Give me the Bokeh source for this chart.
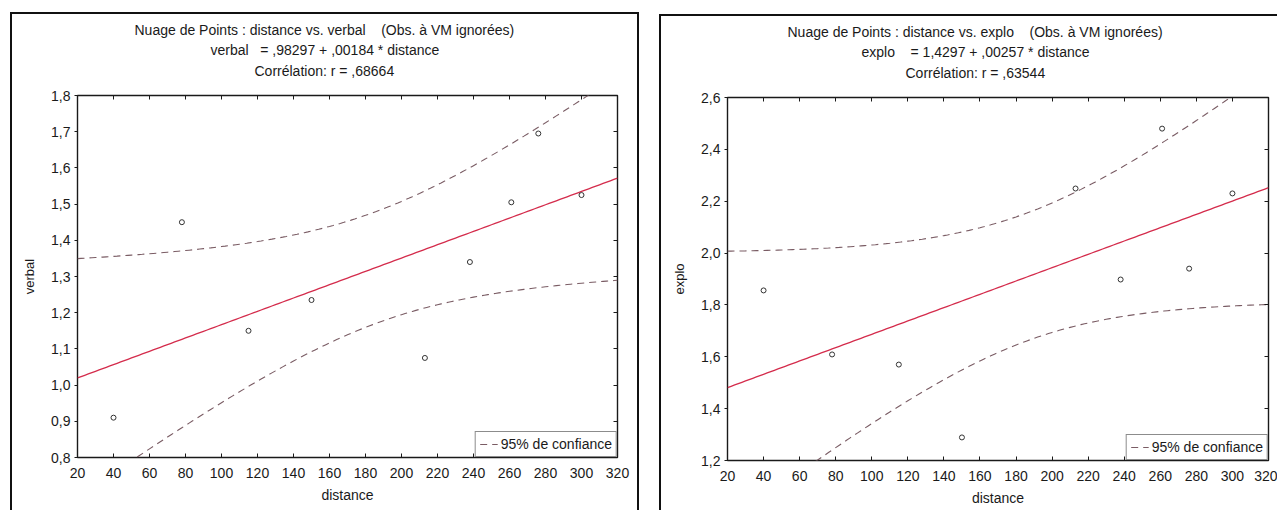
import numpy as np
from bokeh.plotting import figure
from bokeh.models import (LinearAxis, FixedTicker, CustomJSTickFormatter, Title,
                          Legend, LegendItem, Range1d, Spacer)
from bokeh.layouts import row, column
from bokeh.embed import file_html
from bokeh.resources import INLINE

# ---------------- data ----------------
distance = [40, 78, 115, 150, 213, 238, 261, 276, 300]
verbal = [0.91, 1.45, 1.15, 1.235, 1.075, 1.34, 1.505, 1.695, 1.525]
explo = [1.856, 1.609, 1.57, 1.289, 2.249, 1.898, 2.48, 1.94, 2.23]

verbal_intercept, verbal_slope = 0.98297, 0.00184
explo_intercept, explo_slope = 1.4297, 0.00257

x_ticks = [20, 40, 60, 80, 100, 120, 140, 160, 180, 200, 220, 240, 260, 280, 300, 320]
verbal_ticks = [0.8, 0.9, 1.0, 1.1, 1.2, 1.3, 1.4, 1.5, 1.6, 1.7, 1.8]
explo_ticks = [1.2, 1.4, 1.6, 1.8, 2.0, 2.2, 2.4, 2.6]

verbal_title = ["Nuage de Points : distance vs. verbal\u00a0\u00a0\u00a0 (Obs. à VM ignorées)",
                "verbal\u00a0\u00a0 = ,98297 + ,00184 * distance",
                "Corrélation: r = ,68664"]
explo_title = ["Nuage de Points : distance vs. explo\u00a0\u00a0\u00a0 (Obs. à VM ignorées)",
               "explo\u00a0\u00a0\u00a0 = 1,4297 + ,00257 * distance",
               "Corrélation: r = ,63544"]
legend_label = "95% de confiance"

T_CRIT = 2.3646  # Student t, 0.975, df = n - 2 = 7

FONT = "Liberation Sans"
RED = "#d42c4c"
BAND = "#7a5c64"
INK = "#1a1a1a"


def conf_band(xs, ys, a, b, grid):
    xs = np.asarray(xs, float)
    ys = np.asarray(ys, float)
    n = len(xs)
    resid = ys - (a + b * xs)
    s = np.sqrt(np.sum(resid ** 2) / (n - 2))
    sxx = np.sum((xs - xs.mean()) ** 2)
    fit = a + b * grid
    half = T_CRIT * s * np.sqrt(1.0 / n + (grid - xs.mean()) ** 2 / sxx)
    return fit, fit - half, fit + half


def comma_fmt(decimals):
    return CustomJSTickFormatter(
        code="return tick.toFixed(%d).replace('.', ',');" % decimals)


def panel(width, height, ml, mr, mt, mb, yr, yticks, ys, ylabel, a, b,
          title_lines, title_offsets):
    p = figure(width=width, height=height, x_range=Range1d(20, 320),
               y_range=Range1d(*yr), output_backend="svg", toolbar_location=None,
               min_border_left=ml, min_border_right=mr, min_border_top=mt,
               min_border_bottom=mb)
    p.grid.visible = False
    p.outline_line_color = INK
    p.outline_line_width = 1.4
    p.background_fill_color = "white"
    p.border_fill_color = "white"

    xa = p.xaxis[0]
    xa.ticker = FixedTicker(ticks=x_ticks)
    xa.minor_tick_line_color = None
    xa.major_tick_in = 4
    xa.major_tick_out = 0
    xa.axis_line_color = None
    xa.major_tick_line_color = INK
    xa.major_label_standoff = 10
    xa.major_label_text_font = FONT
    xa.major_label_text_font_size = "14px"
    xa.major_label_text_color = INK
    xa.axis_label = "distance"
    xa.axis_label_text_font = FONT
    xa.axis_label_text_font_size = "14px"
    xa.axis_label_text_font_style = "normal"
    xa.axis_label_text_color = INK
    xa.axis_label_standoff = 6

    ya = p.yaxis[0]
    ya.ticker = FixedTicker(ticks=yticks)
    ya.formatter = comma_fmt(1)
    ya.minor_tick_line_color = None
    ya.major_tick_in = 0
    ya.major_tick_out = 3
    ya.axis_line_color = None
    ya.major_tick_line_color = INK
    ya.major_label_standoff = 4
    ya.major_label_text_font = FONT
    ya.major_label_text_font_size = "14px"
    ya.major_label_text_color = INK
    ya.axis_label = ylabel
    ya.axis_label_text_font = FONT
    ya.axis_label_text_font_size = "13px"
    ya.axis_label_text_font_style = "normal"
    ya.axis_label_text_color = INK
    ya.axis_label_standoff = 11

    empty = CustomJSTickFormatter(code="return '';")
    top = LinearAxis(ticker=FixedTicker(ticks=x_ticks), formatter=empty,
                     major_tick_in=4, major_tick_out=0, minor_tick_line_color=None,
                     axis_line_color=None, major_label_standoff=0,
                     major_label_text_font_size="0px", major_tick_line_color=INK)
    right = LinearAxis(ticker=FixedTicker(ticks=yticks), formatter=empty,
                       major_tick_in=4, major_tick_out=0, minor_tick_line_color=None,
                       axis_line_color=None, major_label_standoff=0,
                       major_label_text_font_size="0px", major_tick_line_color=INK)
    p.add_layout(top, "above")
    p.add_layout(right, "right")

    grid = np.linspace(20, 320, 151)
    fit, lo, hi = conf_band(distance, ys, a, b, grid)
    up_r = p.line(grid, hi, line_color=BAND, line_width=1.1, line_dash="7 5")
    p.line(grid, lo, line_color=BAND, line_width=1.1, line_dash="7 5")
    p.line(grid, fit, line_color=RED, line_width=1.3)
    p.scatter(distance, ys, marker="circle", size=5, fill_color=None,
              line_color="#333333", line_width=1)

    # small gap between the frame and the title block
    p.add_layout(Title(text="\u00a0", text_font_size="2px", standoff=11,
                       text_color="white"), "above")
    # title lines: nearest to the frame first
    standoffs = [1, 3, 3]
    for txt, off, so in reversed(list(zip(title_lines, title_offsets, standoffs))):
        p.add_layout(Title(text=txt, align="left", offset=off,
                           standoff=so, text_font=FONT, text_font_size="14px",
                           text_font_style="normal", text_color=INK), "above")

    leg = Legend(items=[LegendItem(label=legend_label, renderers=[up_r])],
                 location="bottom_right", border_line_color=INK, border_line_width=1,
                 background_fill_color="white", background_fill_alpha=1,
                 label_text_font=FONT, label_text_font_size="14px",
                 label_text_color=INK, glyph_width=18, glyph_height=14,
                 padding=4, margin=0, label_standoff=3, spacing=0)
    p.add_layout(leg)

    p.styles = {"outline": "2px solid #111"}
    return p


left = panel(625, 496, 65, 20, 81, 53, (0.8, 1.8), verbal_ticks, verbal, "verbal",
             verbal_intercept, verbal_slope, verbal_title, [57, 133, 177])
right = panel(616, 494, 66, 9, 81, 50, (1.2, 2.6), explo_ticks, explo, "explo",
              explo_intercept, explo_slope, explo_title, [60, 134, 178])

layout = row(Spacer(width=12), column(Spacer(height=14), left), Spacer(width=24),
             column(Spacer(height=16), right))

open("out.html", "w").write(file_html(layout, INLINE))
